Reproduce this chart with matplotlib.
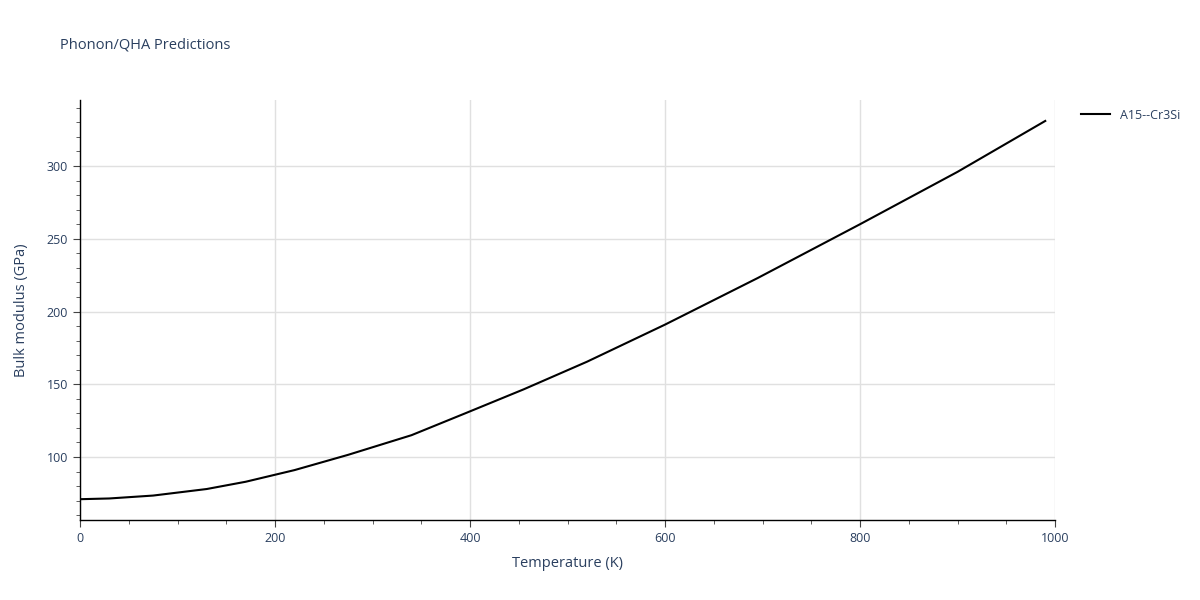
import numpy as np
import matplotlib
matplotlib.use("Agg")
import matplotlib.pyplot as plt
from matplotlib.ticker import MultipleLocator

# --- Data ---
temperature_k = [0, 30, 75, 130, 170, 220, 275, 340, 395, 455, 520, 600, 695, 800, 900, 990]
bulk_modulus_gpa = [71.0, 71.5, 73.5, 78.0, 83.0, 91.0, 101.5, 115.0, 130.0, 146.5, 165.5,
                    191.0, 223.0, 260.0, 296.0, 331.0]
series_name = "A15--Cr3Si"

# --- Style ---
text_color = "#2a3f5f"
grid_color = "#e0e0e0"
plt.rcParams["font.family"] = ["Open Sans", "DejaVu Sans"]

fig = plt.figure(figsize=(12, 6), dpi=100)
ax = fig.add_axes([80 / 1200, 80 / 600, 975 / 1200, 420 / 600])

ax.plot(temperature_k, bulk_modulus_gpa, color="black", lw=1.5, label=series_name)

ax.set_xlim(0, 1000)
ax.set_ylim(56.7, 345.4)
ax.xaxis.set_major_locator(MultipleLocator(200))
ax.xaxis.set_minor_locator(MultipleLocator(50))
ax.yaxis.set_major_locator(MultipleLocator(50))
ax.yaxis.set_minor_locator(MultipleLocator(10))
ax.set_yticks([100, 150, 200, 250, 300])

ax.grid(True, which="major", color=grid_color, lw=1)
ax.set_axisbelow(True)
for side in ["top", "right"]:
    ax.spines[side].set_visible(False)
for side in ["left", "bottom"]:
    ax.spines[side].set_color("black")
    ax.spines[side].set_linewidth(1)

ax.tick_params(which="major", direction="out", length=5, color="#444444",
               labelcolor=text_color, labelsize=9)
ax.tick_params(which="minor", direction="out", length=3, color="#444444")

ax.set_xlabel("Temperature (K)", color=text_color, fontsize=10.5, labelpad=8)
ax.set_ylabel("Bulk modulus (GPa)", color=text_color, fontsize=10.5, labelpad=13)
fig.text(60 / 1200, 1 - 45 / 600, "Phonon/QHA Predictions", color=text_color,
         fontsize=10.5, va="center", ha="left")

ax.legend(loc="upper left", bbox_to_anchor=(1.018, 1.0), frameon=False,
          handlelength=2.3, fontsize=9, labelcolor=text_color, borderaxespad=0.3)

fig.savefig("out.png", dpi=100)
